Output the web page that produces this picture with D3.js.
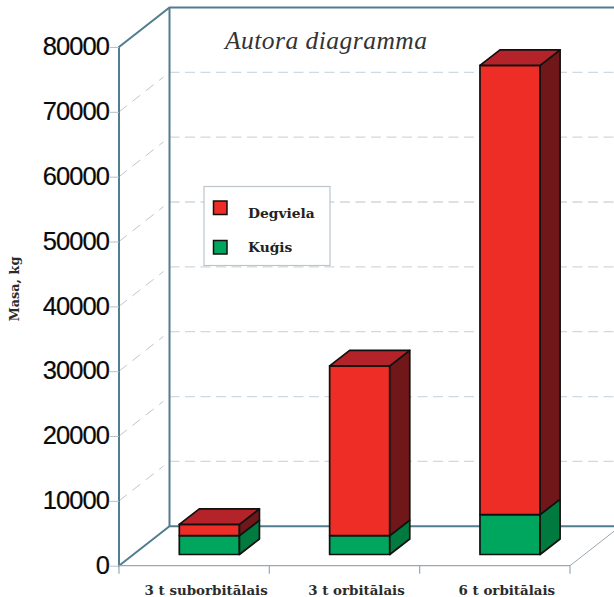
<!DOCTYPE html>
<html>
<head>
<meta charset="utf-8">
<script src="https://cdn.jsdelivr.net/npm/d3@7"></script>
<style>
html,body{margin:0;padding:0;background:#fff;overflow:hidden}
svg{display:block}
</style>
</head>
<body>
<script>
// Launch vehicle mass by class, stacked: vehicle + propellant
const categories = ["3 t suborbitālais", "3 t orbitālais", "6 t orbitālais"];
const seriesNames = ["Kuģis", "Degviela"];
const kugis = [2900, 2900, 6150];
const degviela = [1750, 26200, 69300];
const yTicks = [0, 10000, 20000, 30000, 40000, 50000, 60000, 70000, 80000];
const chartTitle = "Autora diagramma";
const yTitle = "Masa, kg";

const W = 614, H = 597;
const svg = d3.select("body").append("svg").attr("width", W).attr("height", H);

const x = d3.scaleBand().domain(categories).range([119, 570]).paddingInner(0.6).paddingOuter(0.3);
const y = d3.scaleLinear().domain([0, 80000]).range([565.7, 47]);

// Oblique projection of the chart box
const depth = {dx: 50.5, dy: -39.5};
const barFront = {dx: 15.2, dy: -11.2};
const barDepth = {dx: 20, dy: -15.5};

const teal = "#527d8f";
const grid = "#d0d9e0";
const floorGrey = "#98a9b5";
const serif = "'Liberation Serif', serif";
const boldSerif = "'DejaVu Serif', serif";

const xL = x.range()[0], xR = x.range()[1];
const x0 = xL + depth.dx;

// Gridlines on the back and side walls
const gridVals = yTicks.slice(1, -1);
svg.append("g").selectAll("line").data(gridVals).join("line")
  .attr("x1", x0).attr("x2", W + 10)
  .attr("y1", d => y(d) + depth.dy).attr("y2", d => y(d) + depth.dy)
  .attr("stroke", grid).attr("stroke-width", 1.3).attr("stroke-dasharray", "10 5.5");
svg.append("g").selectAll("line").data(gridVals).join("line")
  .attr("x1", xL).attr("x2", x0 - 6)
  .attr("y1", d => y(d)).attr("y2", d => y(d) + depth.dy * (44.5 / 50.5))
  .attr("stroke", "#b9c8d2").attr("stroke-width", 1).attr("stroke-dasharray", "10 7");

// Floor edges
svg.append("path")
  .attr("d", `M${xR},${y(0)}L${xR + depth.dx},${y(0) + depth.dy}`)
  .attr("fill", "none").attr("stroke", floorGrey).attr("stroke-width", 1);

// Box outline
const frame = svg.append("g").attr("fill", "none").attr("stroke", teal).attr("stroke-width", 2);
frame.append("path").attr("d",
  `M${W + 10},${y(80000) + depth.dy}L${x0},${y(80000) + depth.dy}L${xL},${y(80000)}L${xL},${y(0)}L${x0},${y(0) + depth.dy}L${W + 10},${y(0) + depth.dy}`);
frame.append("path").attr("d", `M${x0},${y(80000) + depth.dy}L${x0},${y(0) + depth.dy}`);

// Value axis
const yAxis = svg.append("g").attr("transform", `translate(${xL},0)`)
  .call(d3.axisLeft(y).tickValues(yTicks).tickFormat(d3.format("d")).tickSize(9).tickPadding(1));
yAxis.select(".domain").remove();
yAxis.selectAll(".tick line").attr("stroke", "#b4c2cc").attr("stroke-width", 1);
yAxis.selectAll(".tick text")
  .attr("font-family", "'Liberation Sans', Arial, sans-serif")
  .attr("font-size", 25.5).attr("letter-spacing", -0.95).attr("fill", "#0a0a0a")
  .attr("stroke", "#0a0a0a").attr("stroke-width", 0.2)
  .attr("dy", "0.3em");

// Category axis along the front floor edge
const boundaries = d3.range(categories.length + 1).map(i => xL + (xR - xL) * i / categories.length);
svg.append("line").attr("x1", xL).attr("x2", xR).attr("y1", y(0)).attr("y2", y(0))
  .attr("stroke", floorGrey).attr("stroke-width", 1.2);
svg.append("g").selectAll("line").data(boundaries).join("line")
  .attr("x1", d => d).attr("x2", d => d).attr("y1", y(0)).attr("y2", y(0) + 8)
  .attr("stroke", floorGrey).attr("stroke-width", 1.2);
svg.append("g").selectAll("text").data(categories).join("text")
  .attr("x", d => x(d) + x.bandwidth() / 2 + 12)
  .attr("y", 594.5)
  .attr("text-anchor", "middle")
  .attr("font-family", boldSerif).attr("font-weight", "bold")
  .attr("font-size", 13.4).attr("fill", "#2b2b2b")
  .text(d => d);

// Stacked 3D bars
const rows = categories.map((c, i) => ({category: c, "Kuģis": kugis[i], "Degviela": degviela[i]}));
const stacked = d3.stack().keys(seriesNames)(rows);
const palette = {
  "Kuģis": {front: "#00a65d", side: "#017a40", top: "#00a65d"},
  "Degviela": {front: "#ee2d26", side: "#6f1719", top: "#b5232a"}
};
const pts = a => a.map(p => p.join(",")).join(" ");
const barsG = svg.append("g").attr("stroke", "#111").attr("stroke-width", 1.7).attr("stroke-linejoin", "round");
stacked.forEach(layer => {
  const c = palette[layer.key];
  layer.forEach((d, i) => {
    const left = x(categories[i]) + barFront.dx;
    const right = left + x.bandwidth();
    const yb = y(d[0]) + barFront.dy;
    const yt = y(d[1]) + barFront.dy;
    const g = barsG.append("g");
    g.append("rect").attr("x", left).attr("y", yt).attr("width", right - left).attr("height", yb - yt).attr("fill", c.front);
    g.append("polygon").attr("fill", c.side).attr("points", pts([
      [right, yb], [right + barDepth.dx, yb + barDepth.dy], [right + barDepth.dx, yt + barDepth.dy], [right, yt]]));
    if (layer.key === "Degviela") {
      g.append("polygon").attr("fill", c.top).attr("points", pts([
        [left, yt], [left + barDepth.dx, yt + barDepth.dy], [right + barDepth.dx, yt + barDepth.dy], [right, yt]]));
    }
  });
});

// Title
svg.append("text").attr("x", 225).attr("y", 49)
  .attr("font-family", serif).attr("font-style", "italic")
  .attr("font-size", 25.5).attr("fill", "#333")
  .attr("textLength", 202).attr("lengthAdjust", "spacing")
  .text(chartTitle);

// Value axis title
svg.append("text").attr("transform", "translate(19,289) rotate(-90)")
  .attr("text-anchor", "middle")
  .attr("font-family", boldSerif).attr("font-weight", "bold")
  .attr("font-size", 12.8).attr("fill", "#2b2b2b")
  .text(yTitle);

// Legend
const legend = svg.append("g");
legend.append("rect").attr("x", 204).attr("y", 186.5).attr("width", 126).attr("height", 79)
  .attr("fill", "#fff").attr("stroke", "#bcc5cc").attr("stroke-width", 1.2);
const legendRows = [...seriesNames].reverse();
const legendY = d3.scalePoint().domain(legendRows).range([208, 247.5]);
const textY = d3.scalePoint().domain(legendRows).range([218, 252]);
legendRows.forEach(name => {
  legend.append("rect").attr("x", 213.5).attr("y", legendY(name) - 7).attr("width", 13.5).attr("height", 13.5)
    .attr("fill", palette[name].front).attr("stroke", "#111").attr("stroke-width", 1.5);
  legend.append("text").attr("x", 248).attr("y", textY(name))
    .attr("font-family", boldSerif).attr("font-weight", "bold")
    .attr("font-size", 13.8).attr("fill", "#222")
    .text(name);
});
</script>
</body>
</html>
